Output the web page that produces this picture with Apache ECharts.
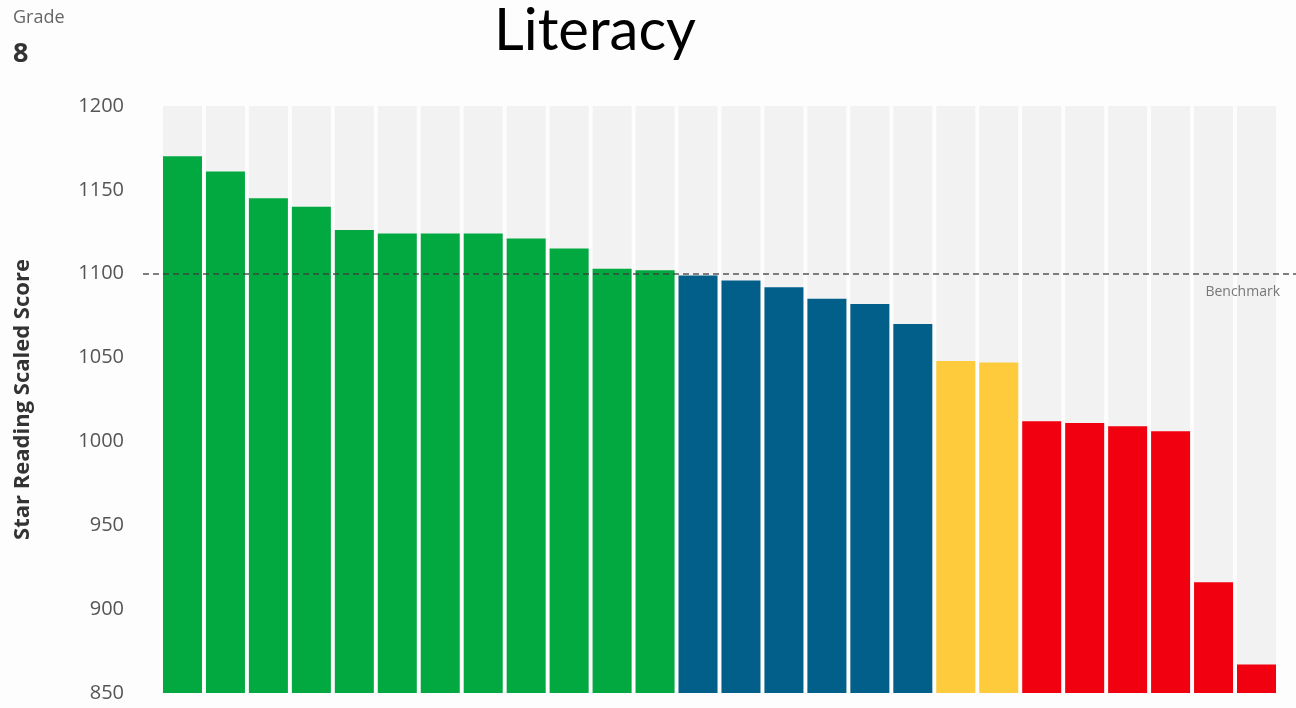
<!DOCTYPE html>
<html>
<head>
<meta charset="utf-8">
<script src="https://cdn.jsdelivr.net/npm/echarts@6/dist/echarts.min.js"></script>
<style>
  html, body { margin: 0; padding: 0; background: #fdfdfd; }
  #chart { width: 1296px; height: 708px; }
</style>
</head>
<body>
<div id="chart"></div>
<script>
// Student scores, sorted from highest to lowest
const students = Array.from({ length: 26 }, (_, i) => 'S' + (i + 1));
const scores = [1170, 1161, 1145, 1140, 1126, 1124, 1124, 1124, 1121, 1115, 1103, 1102,
                1099, 1096, 1092, 1085, 1082, 1070,
                1048, 1047,
                1012, 1011, 1009, 1006, 916, 867];
// Performance band per student
const bands = ['above', 'above', 'above', 'above', 'above', 'above', 'above', 'above', 'above', 'above', 'above', 'above',
               'on', 'on', 'on', 'on', 'on', 'on',
               'near', 'near',
               'urgent', 'urgent', 'urgent', 'urgent', 'urgent', 'urgent'];
const bandColors = { above: '#02a940', on: '#025f8a', near: '#fecb3d', urgent: '#f1000f' };
const yTicks = [850, 900, 950, 1000, 1050, 1100, 1150, 1200];
const benchmark = 1100;

const chart = echarts.init(document.getElementById('chart'));
const font = '"Open Sans", sans-serif';

chart.setOption({
  backgroundColor: '#fdfdfd',
  animation: false,
  title: [
    { text: 'Literacy', left: 590, top: -3, textAlign: 'center',
      textStyle: { fontFamily: 'Lato', fontWeight: 'normal', fontSize: 58, color: '#000' } },
    { text: 'Grade', left: 8, top: 4,
      textStyle: { fontFamily: font, fontWeight: 'normal', fontSize: 18, color: '#666' } },
    { text: '8', left: 8, top: 36,
      textStyle: { fontFamily: font, fontWeight: 'bold', fontSize: 27, color: '#333' } }
  ],
  grid: [
    { left: 161, right: 18, top: 106, bottom: 15 },
    { left: 143, right: 0, top: 106, bottom: 15 }
  ],
  xAxis: [
    { type: 'category', gridIndex: 0, data: students,
      axisLine: { show: false }, axisTick: { show: false }, axisLabel: { show: false } },
    { type: 'value', gridIndex: 1, min: 0, max: 1, show: false }
  ],
  yAxis: [
    { type: 'value', gridIndex: 0, min: 850, max: 1200, interval: 50,
      name: 'Star Reading Scaled Score', nameLocation: 'middle', nameGap: 127,
      nameTextStyle: { fontFamily: font, fontWeight: 'bold', fontSize: 22, color: '#333' },
      axisLine: { show: false }, axisTick: { show: false }, splitLine: { show: false },
      axisLabel: { fontFamily: font, fontSize: 20, color: '#555', margin: 37,
        formatter: v => (yTicks.includes(v) ? String(v) : '') } },
    { type: 'value', gridIndex: 1, min: 850, max: 1200, show: false }
  ],
  series: [
    {
      type: 'bar',
      xAxisIndex: 0, yAxisIndex: 0,
      barWidth: 39,
      showBackground: true,
      backgroundStyle: { color: '#f2f2f2' },
      data: scores.map((v, i) => ({ value: v, itemStyle: { color: bandColors[bands[i]] } }))
    },
    {
      // benchmark reference line across the full width
      type: 'line',
      xAxisIndex: 1, yAxisIndex: 1,
      data: [],
      silent: true,
      z: 5,
      markLine: {
        symbol: 'none',
        silent: true,
        lineStyle: { color: 'rgba(60,60,60,0.65)', width: 2, type: [6, 4] },
        label: { show: true, position: 'insideEndBottom', formatter: 'Benchmark',
          fontFamily: font, fontSize: 14, color: '#777', distance: [16, 11] },
        data: [{ yAxis: benchmark }]
      }
    }
  ]
});
</script>
</body>
</html>
